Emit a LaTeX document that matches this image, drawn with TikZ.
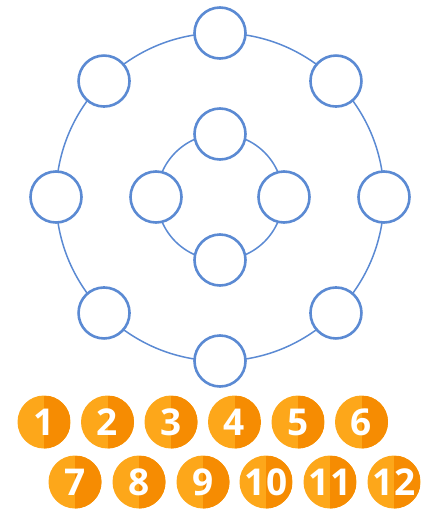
\documentclass[tikz,border=0pt]{standalone}
\usepackage{fontspec}
\setsansfont{Open Sans}
\usetikzlibrary{calc}
\definecolor{ringblue}{HTML}{5B8AD3}
\definecolor{badgelight}{HTML}{FDA71A}
\definecolor{badgedark}{HTML}{F68C02}

\begin{document}
\begin{tikzpicture}[x=1pt,y=-1pt,
    ring/.style={draw=ringblue,line width=1.5pt},
    seat/.style={circle,draw=ringblue,line width=2.6pt,fill=white,minimum size=51pt,inner sep=0pt},
    badge/.style={circle,fill=badgelight,minimum size=53pt,inner sep=0pt,text=white,
        font=\sffamily\bfseries\fontsize{37}{37}\selectfont,
        path picture={\fill[badgedark] (path picture bounding box.north) rectangle (path picture bounding box.south east);}}]
    \useasboundingbox (0,0) rectangle (440,512);

    % tables
    \coordinate (C) at (220,197);
    \draw[ring] (C) circle (164pt);
    \draw[ring] (C) circle (63pt);

    % outer seats
    \node[seat] (O1) at ($(C)+(90:164pt)$) {};
    \node[seat] (O2) at ($(C)+(135:164pt)$) {};
    \node[seat] (O3) at ($(C)+(180:164pt)$) {};
    \node[seat] (O4) at ($(C)+(225:164pt)$) {};
    \node[seat] (O5) at ($(C)+(270:164pt)$) {};
    \node[seat] (O6) at ($(C)+(315:164pt)$) {};
    \node[seat] (O7) at ($(C)+(0:164pt)$) {};
    \node[seat] (O8) at ($(C)+(45:164pt)$) {};

    % inner seats
    \node[seat] (I1) at ($(C)+(90:63pt)$) {};
    \node[seat] (I2) at ($(C)+(180:64pt)$) {};
    \node[seat] (I3) at ($(C)+(270:63pt)$) {};
    \node[seat] (I4) at ($(C)+(0:64pt)$) {};

    % numbered badges
    \node[badge] (B1) at (44,422) {1};
    \node[badge] (B2) at (107.5,422) {2};
    \node[badge] (B3) at (171,422) {3};
    \node[badge] (B4) at (234.5,422) {4};
    \node[badge] (B5) at (298,422) {5};
    \node[badge] (B6) at (361.5,422) {6};
    \node[badge] (B7) at (75,482) {7};
    \node[badge] (B8) at (139,482) {8};
    \node[badge] (B9) at (203,482) {9};
    \node[badge] (B10) at (266,482) {10};
    \node[badge] (B11) at (330,482) {11};
    \node[badge] (B12) at (394,482) {12};
\end{tikzpicture}
\end{document}
